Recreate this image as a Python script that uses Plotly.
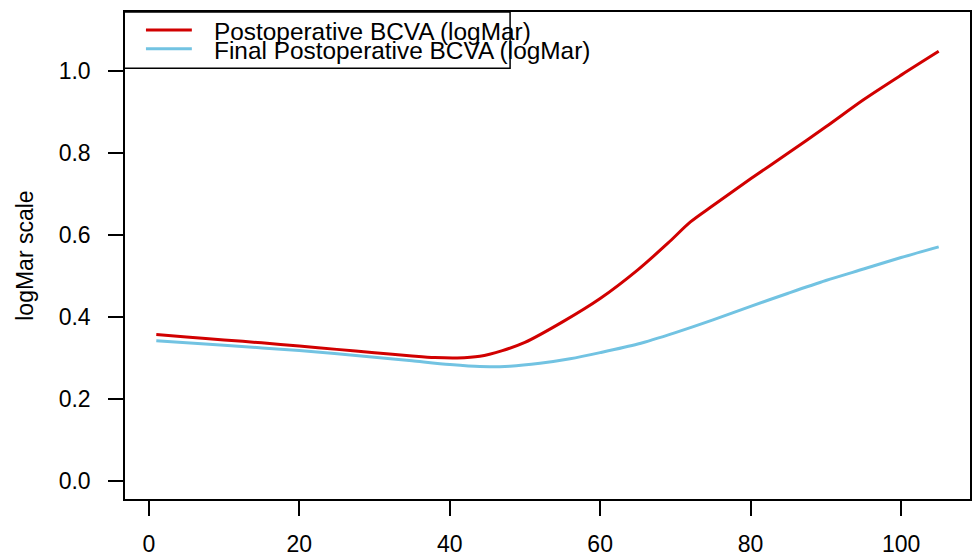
import plotly.graph_objects as go

# Data
x_red = [1, 5, 10, 15, 20, 25, 30, 35, 38, 41, 44, 47, 50, 55, 60, 65, 69, 72, 75, 80, 85, 90, 95, 100, 105]
y_red = [0.357, 0.351, 0.344, 0.337, 0.329, 0.321, 0.313, 0.305, 0.301, 0.300, 0.304, 0.318, 0.338, 0.388, 0.445, 0.515, 0.580, 0.632, 0.672, 0.737, 0.800, 0.864, 0.930, 0.990, 1.048]
x_blue = [1, 10, 20, 30, 35, 40, 44, 48, 52, 56, 60, 65, 70, 75, 80, 85, 90, 95, 100, 105]
y_blue = [0.342, 0.331, 0.318, 0.302, 0.293, 0.284, 0.279, 0.280, 0.287, 0.298, 0.313, 0.334, 0.362, 0.393, 0.426, 0.458, 0.489, 0.517, 0.545, 0.571]

names = ["Postoperative BCVA (logMar)", "Final Postoperative BCVA (logMar)"]
colors = ["#D10000", "#72C3E2"]
x_ticks = [0, 20, 40, 60, 80, 100]
y_ticks = [0.0, 0.2, 0.4, 0.6, 0.8, 1.0]
y_ticklabels = ["0.0", "0.2", "0.4", "0.6", "0.8", "1.0"]

W, H = 975, 560
ML, MR, MT, MB = 125, 3, 12, 58
PW, PH = W - ML - MR, H - MT - MB
FONT = "Liberation Sans, Arial, Helvetica, sans-serif"
FS = 23
LFS = 24.4

def px(xp):
    return (xp - ML) / PW

def py(yp):
    return (H - MB - yp) / PH

fig = go.Figure()
for xs, ys, n, c in [(x_red, y_red, names[0], colors[0]), (x_blue, y_blue, names[1], colors[1])]:
    fig.add_trace(go.Scatter(x=xs, y=ys, mode="lines", name=n,
                             line=dict(color=c, width=3, shape="spline", smoothing=0.8),
                             showlegend=False))

axis_common = dict(showline=True, linecolor="black", linewidth=1.5, mirror=True,
                   ticks="outside", ticklen=15, tickwidth=1.5, tickcolor="black",
                   showgrid=False, zeroline=False,
                   tickfont=dict(family=FONT, size=FS, color="black"))

fig.update_xaxes(range=[-3.16, 109.16], tickvals=x_ticks, ticklabelstandoff=9, **axis_common)
fig.update_yaxes(range=[-0.044, 1.144], tickvals=y_ticks, ticktext=y_ticklabels,
                 ticklabelstandoff=13, **axis_common)

# Legend drawn R-style
shapes = [dict(type="rect", xref="paper", yref="paper", x0=px(124), x1=px(511), y0=py(68.5), y1=py(12),
               line=dict(color="black", width=1.5), fillcolor="rgba(0,0,0,0)")]
annotations = []
for i, (n, c) in enumerate(zip(names, colors)):
    yy = 30 + 19 * i
    shapes.append(dict(type="line", xref="paper", yref="paper", x0=px(146), x1=px(192),
                       y0=py(yy), y1=py(yy), line=dict(color=c, width=3)))
    annotations.append(dict(text=n, xref="paper", yref="paper", x=px(212), y=py(yy + 1.5),
                            xanchor="left", yanchor="middle", showarrow=False,
                            font=dict(family=FONT, size=LFS, color="black")))

annotations.append(dict(text="logMar scale", xref="paper", yref="paper", x=px(24), y=py(257),
                        xanchor="center", yanchor="middle", textangle=-90, showarrow=False,
                        font=dict(family=FONT, size=FS, color="black")))

fig.update_layout(width=W, height=H, margin=dict(l=ML, r=MR, t=MT, b=MB),
                  plot_bgcolor="white", paper_bgcolor="white",
                  shapes=shapes, annotations=annotations)

fig.write_html("out.html")
